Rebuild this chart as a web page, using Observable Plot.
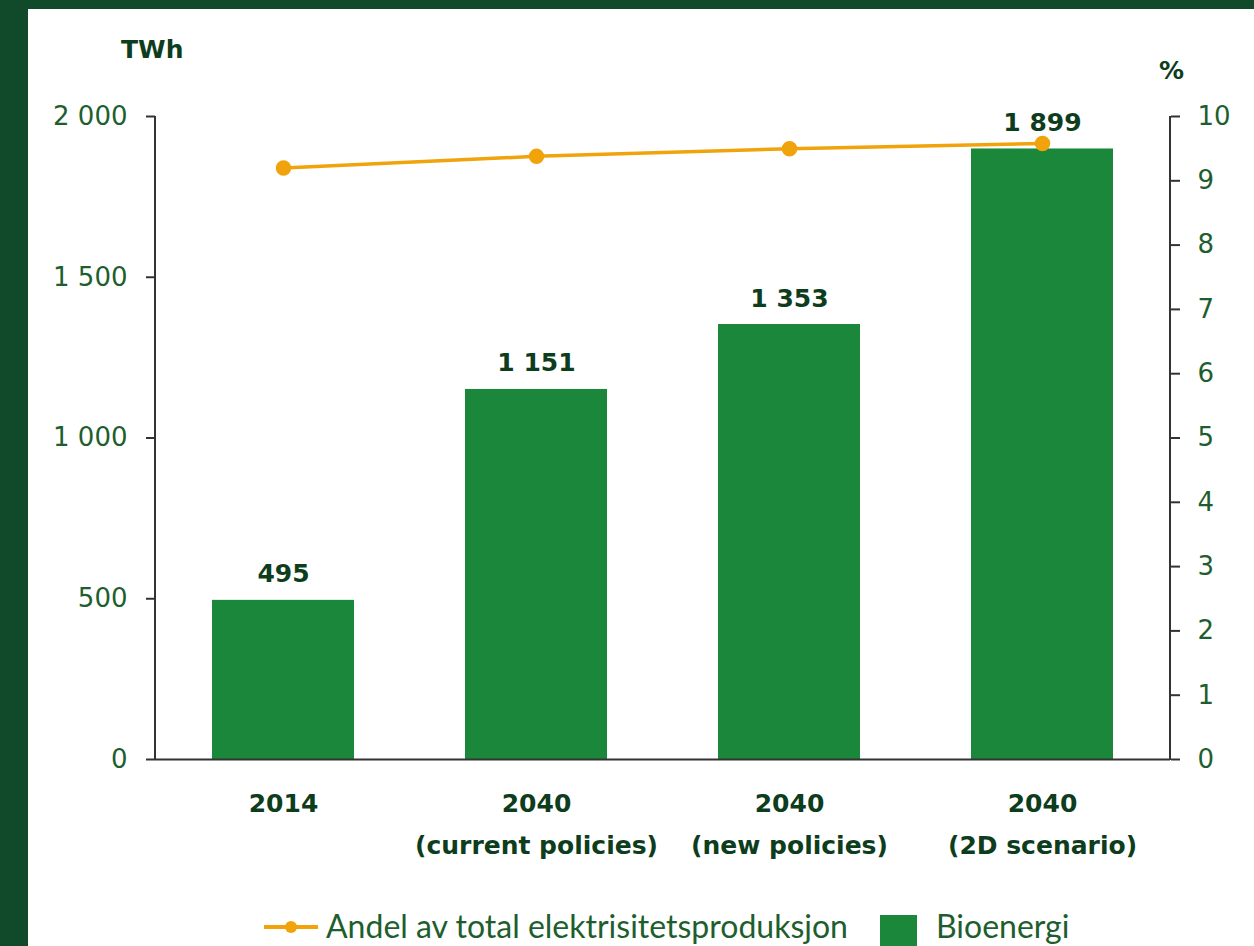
<!DOCTYPE html>
<html><head><meta charset="utf-8">
<script src="https://cdn.jsdelivr.net/npm/d3@7"></script>
<script src="https://cdn.jsdelivr.net/npm/@observablehq/plot@0.6"></script>
<style>
html,body{margin:0;padding:0;background:#114a2b;width:1254px;height:946px;overflow:hidden;}
#panel{position:absolute;left:28px;top:9px;width:1226px;height:937px;background:#fff;overflow:hidden;}
#chart{position:absolute;left:0;top:0;}
.lbl{position:absolute;font-family:"DejaVu Sans",sans-serif;font-weight:bold;color:#0d3d1c;font-size:25px;line-height:1;}
#legend{position:absolute;top:889px;left:0;width:1226px;height:48px;font-family:Lato,sans-serif;font-size:32px;color:#1e5e2e;line-height:1;}
</style></head>
<body>
<div id="panel">
  <div id="chart"></div>
  <div class="lbl" style="left:93px;top:28px;">TWh</div>
  <div class="lbl" style="left:1131px;top:49px;">%</div>
  <div id="legend"></div>
</div>
<script>
const categories = ["2014", "2040\n(current policies)", "2040\n(new policies)", "2040\n(2D scenario)"];
const bioenergy = [495, 1151, 1353, 1899];
const share = [9.2, 9.38, 9.5, 9.58];
const leftTicks = [0, 500, 1000, 1500, 2000];
const rightTicks = [0, 1, 2, 3, 4, 5, 6, 7, 8, 9, 10];
const rightMax = 10;
const leftMax = 2000;

const barColor = "#1a873a";
const lineColor = "#f0a30a";
const tickColor = "#1e5e2e";
const labelColor = "#0d3d1c";

const rows = categories.map((c, i) => ({cat: c, value: bioenergy[i], pct: share[i]}));
const fmt = v => d3.format(",")(v).replace(/,/g, " ");
const toLeft = p => p * leftMax / rightMax;

const chart = Plot.plot({
  width: 1226,
  height: 870,
  marginLeft: 127,
  marginRight: 84,
  marginTop: 107,
  marginBottom: 120,
  style: {fontFamily: "DejaVu Sans, sans-serif", background: "white", overflow: "visible"},
  x: {domain: categories, paddingInner: 0.437, paddingOuter: 0.2185, label: null},
  y: {domain: [0, leftMax], label: null},
  marks: [
    Plot.barY(rows, {x: "cat", y: "value", fill: barColor}),
    Plot.ruleY([0], {stroke: "#333", strokeWidth: 2}),
    Plot.axisY({ticks: leftTicks, anchor: "left", tickSize: 9, tickPadding: 19, tickFormat: fmt,
      fontSize: 26, fill: tickColor, stroke: "#333", strokeWidth: 2, label: null}),
    Plot.axisY({ticks: rightTicks.map(toLeft), anchor: "right", tickSize: 9, tickPadding: 18,
      tickFormat: v => String(Math.round(v * rightMax / leftMax)),
      fontSize: 26, fill: tickColor, stroke: "#333", strokeWidth: 2, label: null}),
    Plot.axisX({anchor: "bottom", tickSize: 0, tickPadding: 23, fontSize: 25, fontWeight: "bold",
      fill: labelColor, lineHeight: 1.68, label: null}),
    Plot.text(rows, {x: "cat", y: "value", text: d => fmt(d.value), dy: -26, fontSize: 25,
      fontWeight: "bold", fill: labelColor}),
    Plot.line(rows, {x: "cat", y: d => toLeft(d.pct), stroke: lineColor, strokeWidth: 3.5}),
    Plot.dot(rows, {x: "cat", y: d => toLeft(d.pct), r: 7, fill: lineColor, stroke: lineColor})
  ]
});
// left and right axis lines
const svg = d3.select(chart);
[127, 1142].forEach(x => {
  svg.append("line").attr("x1", x).attr("x2", x).attr("y1", 107).attr("y2", 751)
    .attr("stroke", "#333").attr("stroke-width", 2);
});
document.getElementById("chart").appendChild(chart);

// legend
const leg = document.getElementById("legend");
leg.innerHTML = `
<svg width="60" height="30" style="position:absolute;left:236px;top:14px">
  <line x1="0" x2="54" y1="15" y2="15" stroke="${lineColor}" stroke-width="4"/>
  <circle cx="27" cy="15" r="6" fill="${lineColor}"/>
</svg>
<span style="position:absolute;left:298px;top:12px;white-space:nowrap">Andel av total elektrisitetsproduksjon</span>
<div style="position:absolute;left:852px;top:17px;width:37px;height:40px;background:${barColor}"></div>
<span style="position:absolute;left:908px;top:12px;white-space:nowrap">Bioenergi</span>`;
</script>
</body></html>
